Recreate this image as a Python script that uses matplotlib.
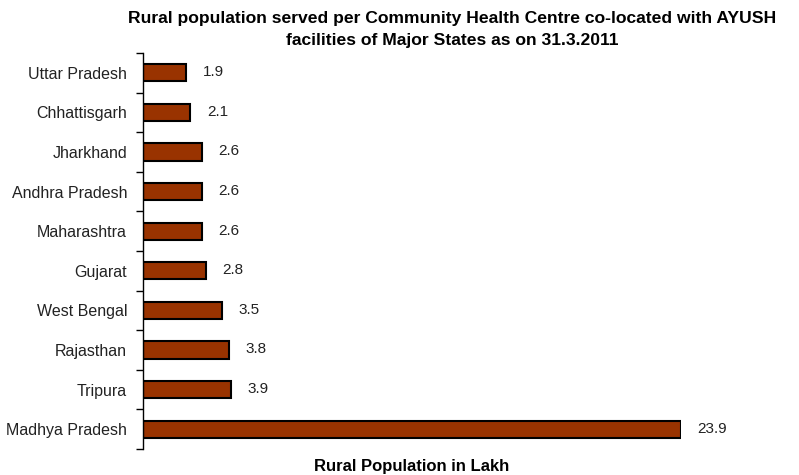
import matplotlib.pyplot as plt

# Data (top to bottom as shown)
states = ['Uttar Pradesh', 'Chhattisgarh', 'Jharkhand', 'Andhra Pradesh', 'Maharashtra',
          'Gujarat', 'West Bengal', 'Rajasthan', 'Tripura', 'Madhya Pradesh']
values = [1.9, 2.1, 2.6, 2.6, 2.6, 2.8, 3.5, 3.8, 3.9, 23.9]

plt.rcParams['font.family'] = ['Liberation Sans', 'DejaVu Sans']

fig = plt.figure(figsize=(7.99, 4.75), dpi=100)
ax = fig.add_axes([143 / 799, 1 - 449 / 475, 538 / 799, 396 / 475])

y = list(range(len(states)))
ax.barh(y, values, height=0.43, color='#993300', edgecolor='black', linewidth=1.5)

# value labels to the right of each bar
for yi, v in zip(y, values):
    ax.annotate(f'{v}', (v, yi), xytext=(12, 0.5), textcoords='offset points',
                va='center', ha='left', fontsize=11, color='#222222',
                annotation_clip=False)

ax.set_xlim(0, 23.9)
ax.set_ylim(len(states) - 0.5, -0.5)
ax.set_yticks(y)
ax.set_yticklabels(states, fontsize=11.5, color='#222222')
ax.set_yticks([i - 0.5 for i in range(len(states) + 1)], minor=True)
ax.tick_params(axis='y', which='major', length=0, pad=11.5)
ax.tick_params(axis='y', which='minor', length=5, width=1, direction='out')
ax.set_xticks([])

for side in ['top', 'right', 'bottom']:
    ax.spines[side].set_visible(False)
ax.spines['left'].set_linewidth(1)

fig.text(452 / 799, 1 - 18 / 475, 'Rural population served per Community Health Centre co-located with AYUSH',
         ha='center', va='center', fontsize=12.6, fontweight='bold')
fig.text(452 / 799, 1 - 40 / 475, 'facilities of Major States as on 31.3.2011',
         ha='center', va='center', fontsize=12.6, fontweight='bold')
fig.text(412 / 799, 1 - 467 / 475, 'Rural Population in Lakh',
         ha='center', va='center', fontsize=12, fontweight='bold')

fig.savefig('out.png', dpi=100)
